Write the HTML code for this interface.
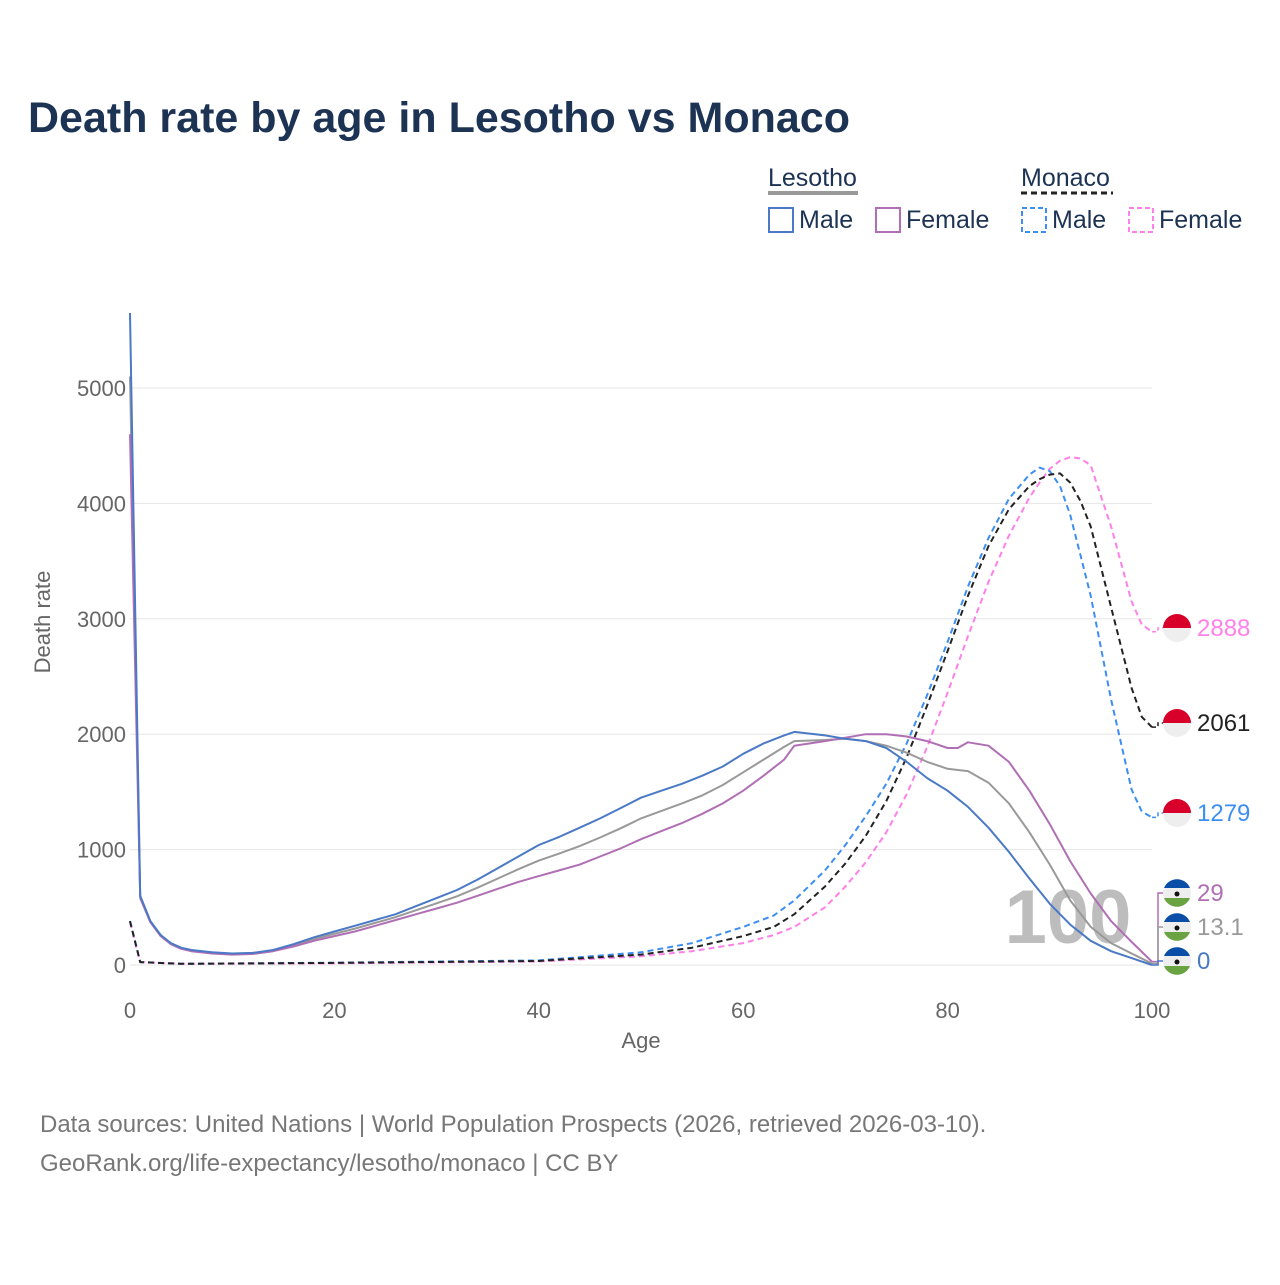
<!DOCTYPE html>
<html><head><meta charset="utf-8"><style>
body{margin:0;background:#fff;font-family:"Liberation Sans",sans-serif}
#wrap{position:relative;width:1280px;height:1280px}
</style></head><body>
<div id="wrap">
<svg id="svg" width="1280" height="1280" xmlns="http://www.w3.org/2000/svg" font-family="Liberation Sans, sans-serif">
<text x="28" y="132" font-size="43" font-weight="bold" fill="#1d3354">Death rate by age in Lesotho vs Monaco</text>
<g font-size="25" fill="#1d3354">
<text x="768" y="186">Lesotho</text>
<line x1="768" y1="193" x2="858" y2="193" stroke="#999" stroke-width="4"/>
<text x="1021" y="186">Monaco</text>
<line x1="1021" y1="193" x2="1113" y2="193" stroke="#222" stroke-width="3" stroke-dasharray="6,4"/>
<g><rect x="769" y="208" width="24" height="24" fill="none" stroke="#4a79c5" stroke-width="2"/><text x="799" y="228">Male</text></g>
<g><rect x="876" y="208" width="24" height="24" fill="none" stroke="#b06fb5" stroke-width="2"/><text x="906" y="228">Female</text></g>
<g><rect x="1022" y="208" width="24" height="24" fill="none" stroke="#3d8ef3" stroke-width="2" stroke-dasharray="5,3"/><text x="1052" y="228">Male</text></g>
<g><rect x="1129" y="208" width="24" height="24" fill="none" stroke="#ff80e8" stroke-width="2" stroke-dasharray="5,3"/><text x="1159" y="228">Female</text></g>
</g>
<text x="1068" y="943" font-size="76" font-weight="bold" fill="#bdbdbd" text-anchor="middle">100</text>
<g id="grid"></g><g id="lines"></g><g id="ends"></g>
<text x="641" y="1048" font-size="22" fill="#666" text-anchor="middle">Age</text>
<text transform="translate(50,622) rotate(-90)" font-size="22" fill="#666" text-anchor="middle">Death rate</text>
<text x="40" y="1132" font-size="24" fill="#777">Data sources: United Nations | World Population Prospects (2026, retrieved 2026-03-10).</text>
<text x="40" y="1171" font-size="24" fill="#777">GeoRank.org/life-expectancy/lesotho/monaco | CC BY</text>
</svg></div>
<script>
const xTicks=[0,20,40,60,80,100];
const yTicks=[0,1000,2000,3000,4000,5000];
const lesAges=[0,1,2,3,4,5,6,8,10,12,14,16,18,20,22,24,26,28,30,32,34,36,38,40,42,44,46,48,50,52,54,56,58,60,62,64,65,68,70,72,74,76,78,80,81,82,84,86,88,90,92,94,96,98,100];
const lesMale=[5650,600,380,260,190,150,130,110,100,105,130,180,240,290,340,390,440,510,580,650,740,840,940,1040,1110,1190,1270,1360,1450,1510,1570,1640,1720,1830,1920,1990,2020,1990,1960,1940,1880,1760,1620,1510,1440,1370,1190,980,750,530,350,210,120,60,0];
const lesFemale=[4600,580,370,250,180,140,120,100,90,95,120,160,210,250,290,340,390,440,490,540,600,660,720,770,820,870,940,1010,1090,1160,1230,1310,1400,1510,1640,1780,1900,1940,1970,2000,2000,1980,1940,1880,1880,1930,1900,1760,1510,1220,900,620,380,200,29];
const lesTotal=[5100,590,375,255,185,145,125,105,95,100,125,170,225,270,315,365,415,475,535,595,670,750,830,905,965,1030,1105,1185,1270,1335,1400,1470,1560,1670,1780,1890,1940,1950,1960,1940,1900,1840,1760,1700,1690,1680,1580,1400,1150,870,560,330,190,100,13.1];
const monAges=[0,1,5,20,40,50,55,60,63,65,68,70,72,74,76,78,80,82,84,86,88,89,90,91,92,93,94,96,98,99,100];
const monMale=[380,25,10,20,40,110,190,330,430,560,820,1040,1290,1570,1920,2340,2800,3280,3700,4040,4250,4310,4280,4150,3900,3550,3200,2300,1520,1330,1279];
const monTotal=[380,25,10,18,35,90,150,250,330,440,680,880,1120,1420,1800,2250,2720,3200,3630,3950,4150,4210,4250,4260,4180,4020,3800,3100,2400,2150,2061];
const monFemale=[370,25,10,15,30,75,120,190,260,330,500,680,890,1150,1480,1890,2360,2850,3320,3720,4050,4180,4300,4370,4400,4390,4330,3800,3150,2950,2888];
const NS="http://www.w3.org/2000/svg";
const X=a=>130+a*10.22, Y=v=>965-v*0.1154;
function mk(t,at,p){const e=document.createElementNS(NS,t);for(const k in at)e.setAttribute(k,at[k]);p.appendChild(e);return e;}
const grid=document.getElementById('grid'),lines=document.getElementById('lines'),ends=document.getElementById('ends');
yTicks.forEach(v=>{const l=mk('line',{x1:130,x2:1152,y1:Y(v),y2:Y(v),stroke:'#e6e6e6','stroke-width':1},grid);


const t=mk('text',{x:126,y:Y(v)+8,'font-size':22,fill:'#666','text-anchor':'end'},grid);t.textContent=v;

});
xTicks.forEach(a=>{const t=mk('text',{x:X(a),y:1018,'font-size':22,fill:'#666','text-anchor':'middle'},grid);t.textContent=a;

});
function series(ages,vals,color,dash,name){const d=ages.map((a,i)=>(i?'L':'M')+X(a).toFixed(1)+','+Y(vals[i]).toFixed(1)).join('');
const p=mk('path',{d,fill:'none',stroke:color,'stroke-width':2,'stroke-dasharray':dash||'none','stroke-linejoin':'round'},lines);

}
series(monAges,monFemale,'#ff80e8','6,4','line-monaco-female');
series(monAges,monMale,'#3d8ef3','6,4','line-monaco-male');
series(monAges,monTotal,'#222','6,4','line-monaco-total');
series(lesAges,lesTotal,'#999','','line-lesotho-total');
series(lesAges,lesFemale,'#b06fb5','','line-lesotho-female');
series(lesAges,lesMale,'#4a79c5','','line-lesotho-male');
function endLabel(val,ly,color,dash,flag,name){const y0=Y(val);
const c=mk('path',{d:`M1152,${y0}L1158,${y0}L1158,${ly}L1164,${ly}`,fill:'none',stroke:color,'stroke-width':1.5,'stroke-dasharray':dash||'none'},ends);


const g=mk('g',{},ends);


const cx=1177,r=14;
if(flag==='mc'){mk('circle',{cx,cy:ly,r,fill:'#eee'},g);mk('path',{d:`M${cx-r},${ly}A${r},${r} 0 0 1 ${cx+r},${ly}Z`,fill:'#d8002a'},g);}
else{mk('circle',{cx,cy:ly,r,fill:'#eee'},g);mk('path',{d:`M${cx-r+1},${ly-5}A${r},${r} 0 0 1 ${cx+r-1},${ly-5}Z`,fill:'#0a4ea8'},g);mk('path',{d:`M${cx-r+1},${ly+5}A${r},${r} 0 0 0 ${cx+r-1},${ly+5}Z`,fill:'#6aa342'},g);mk('circle',{cx,cy:ly+1,r:2.5,fill:'#111'},g);}
const t=mk('text',{x:1197,y:ly+8,'font-size':24,fill:color},ends);t.textContent=val;

}
endLabel(monFemale[monFemale.length-1],628,'#ff80e8','4,3','mc','end-monaco-female');
endLabel(monTotal[monTotal.length-1],723,'#222','4,3','mc','end-monaco-total');
endLabel(monMale[monMale.length-1],813,'#3d8ef3','4,3','mc','end-monaco-male');
endLabel(lesFemale[lesFemale.length-1],893,'#b06fb5','','ls','end-lesotho-female');
endLabel(lesTotal[lesTotal.length-1],927,'#999','','ls','end-lesotho-total');
endLabel(lesMale[lesMale.length-1],961,'#4a79c5','','ls','end-lesotho-male');
</script>
</body></html>
